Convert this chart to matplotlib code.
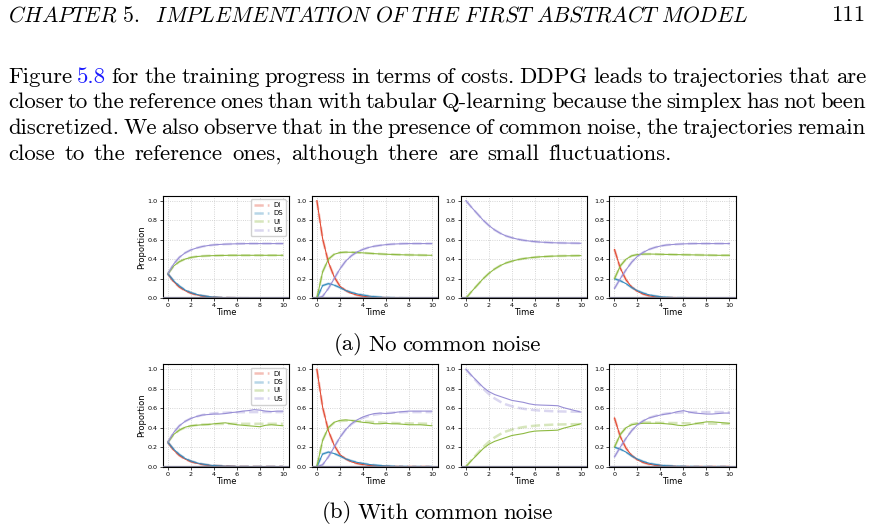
import matplotlib.pyplot as plt

plt.rcParams['mathtext.fontset'] = 'cm'

# time grid of the trajectories
time = [0, 0.5, 1, 1.5, 2, 2.5, 3, 3.5, 4, 4.5, 5, 5.5, 6, 6.5, 7, 7.5, 8, 8.5, 9, 9.5, 10]

labels = ["DI", "DS", "UI", "US"]
colors = ["#E24A33", "#348ABD", "#8EBA42", "#988ED5"]

# reference trajectories (one panel per initial condition)
p1_di = [0.25, 0.17, 0.115, 0.078, 0.052, 0.035, 0.023, 0.015, 0.01, 0.007, 0.005, 0.003, 0.002, 0.001, 0.001, 0, 0, 0, 0, 0, 0]
p1_ds = [0.25, 0.18, 0.125, 0.085, 0.058, 0.04, 0.027, 0.018, 0.012, 0.008, 0.005, 0.003, 0.002, 0.001, 0.001, 0, 0, 0, 0, 0, 0]
p1_ui = [0.25, 0.33, 0.375, 0.402, 0.418, 0.427, 0.432, 0.435, 0.437, 0.438, 0.439, 0.44, 0.44, 0.44, 0.44, 0.44, 0.44, 0.44, 0.44, 0.44, 0.44]
p1_us = [0.25, 0.35, 0.42, 0.465, 0.495, 0.515, 0.53, 0.54, 0.547, 0.551, 0.554, 0.556, 0.558, 0.559, 0.56, 0.56, 0.56, 0.56, 0.56, 0.56, 0.56]

p2_di = [1.0, 0.61, 0.37, 0.22, 0.125, 0.08, 0.05, 0.033, 0.022, 0.014, 0.009, 0.006, 0.004, 0.002, 0.001, 0.001, 0, 0, 0, 0, 0]
p2_ds = [0, 0.13, 0.15, 0.135, 0.11, 0.08, 0.06, 0.045, 0.033, 0.024, 0.017, 0.012, 0.008, 0.005, 0.003, 0.002, 0.001, 0, 0, 0, 0]
p2_ui = [0, 0.27, 0.4, 0.45, 0.468, 0.472, 0.471, 0.468, 0.465, 0.461, 0.457, 0.454, 0.451, 0.449, 0.447, 0.445, 0.444, 0.443, 0.442, 0.441, 0.44]
p2_us = [0, 0.02, 0.1, 0.2, 0.3, 0.38, 0.435, 0.475, 0.5, 0.52, 0.533, 0.542, 0.549, 0.554, 0.557, 0.559, 0.56, 0.56, 0.56, 0.56, 0.56]

p3_di = [0] * 21
p3_ds = [0] * 21
p3_ui = [0, 0.07, 0.135, 0.2, 0.255, 0.3, 0.335, 0.362, 0.38, 0.395, 0.406, 0.414, 0.42, 0.425, 0.428, 0.431, 0.433, 0.434, 0.435, 0.436, 0.437]
p3_us = [1.0, 0.93, 0.865, 0.8, 0.745, 0.7, 0.665, 0.638, 0.62, 0.605, 0.594, 0.586, 0.58, 0.575, 0.572, 0.569, 0.567, 0.566, 0.565, 0.564, 0.563]

p4_di = [0.5, 0.31, 0.19, 0.115, 0.07, 0.043, 0.026, 0.016, 0.01, 0.006, 0.004, 0.002, 0.001, 0.001, 0, 0, 0, 0, 0, 0, 0]
p4_ds = [0.2, 0.18, 0.15, 0.11, 0.078, 0.053, 0.036, 0.024, 0.016, 0.01, 0.007, 0.004, 0.003, 0.002, 0.001, 0.001, 0, 0, 0, 0, 0]
p4_ui = [0.2, 0.33, 0.4, 0.435, 0.448, 0.452, 0.453, 0.452, 0.45, 0.449, 0.448, 0.447, 0.446, 0.445, 0.444, 0.443, 0.442, 0.441, 0.44, 0.44, 0.44]
p4_us = [0.1, 0.2, 0.29, 0.37, 0.43, 0.47, 0.5, 0.52, 0.535, 0.545, 0.55, 0.554, 0.557, 0.559, 0.56, 0.56, 0.56, 0.56, 0.56, 0.56, 0.56]

# learned trajectories with common noise (UI and US deviate)
n1_ui = [0.25, 0.33, 0.375, 0.405, 0.42, 0.425, 0.43, 0.432, 0.44, 0.445, 0.45, 0.44, 0.43, 0.425, 0.42, 0.415, 0.41, 0.425, 0.43, 0.425, 0.42]
n1_us = [0.25, 0.35, 0.42, 0.465, 0.495, 0.515, 0.53, 0.535, 0.54, 0.54, 0.545, 0.555, 0.56, 0.57, 0.575, 0.585, 0.58, 0.57, 0.565, 0.57, 0.57]
n2_ui = [0, 0.27, 0.4, 0.455, 0.475, 0.48, 0.475, 0.465, 0.455, 0.45, 0.44, 0.44, 0.445, 0.44, 0.44, 0.435, 0.43, 0.43, 0.43, 0.425, 0.42]
n2_us = [0, 0.02, 0.1, 0.2, 0.3, 0.38, 0.44, 0.48, 0.51, 0.53, 0.545, 0.55, 0.545, 0.55, 0.56, 0.565, 0.57, 0.57, 0.57, 0.57, 0.57]
n3_ui = [0, 0.065, 0.125, 0.185, 0.23, 0.26, 0.28, 0.3, 0.32, 0.33, 0.34, 0.355, 0.365, 0.368, 0.37, 0.372, 0.375, 0.395, 0.41, 0.425, 0.44]
n3_us = [1.0, 0.935, 0.875, 0.815, 0.77, 0.74, 0.72, 0.7, 0.68, 0.67, 0.66, 0.645, 0.635, 0.632, 0.63, 0.628, 0.625, 0.605, 0.59, 0.575, 0.56]
n4_ui = [0.2, 0.33, 0.4, 0.43, 0.44, 0.445, 0.445, 0.445, 0.445, 0.44, 0.435, 0.425, 0.42, 0.43, 0.44, 0.45, 0.46, 0.46, 0.455, 0.45, 0.445]
n4_us = [0.1, 0.2, 0.29, 0.37, 0.43, 0.47, 0.5, 0.515, 0.53, 0.54, 0.55, 0.565, 0.575, 0.56, 0.55, 0.545, 0.54, 0.54, 0.545, 0.55, 0.55]

reference = [
    [p1_di, p1_ds, p1_ui, p1_us],
    [p2_di, p2_ds, p2_ui, p2_us],
    [p3_di, p3_ds, p3_ui, p3_us],
    [p4_di, p4_ds, p4_ui, p4_us],
]
noisy = [
    [p1_di, p1_ds, n1_ui, n1_us],
    [p2_di, p2_ds, n2_ui, n2_us],
    [p3_di, p3_ds, n3_ui, n3_us],
    [p4_di, p4_ds, n4_ui, n4_us],
]

header = r"$\mathit{CHAPTER\ 5.\ \ IMPLEMENTATION\ OF\ THE\ FIRST\ ABSTRACT\ MODEL}$"
page_number = "111"
body = [
    "Figure 5.8 for the training progress in terms of costs. DDPG leads to trajectories that are",
    "closer to the reference ones than with tabular Q-learning because the simplex has not been",
    "discretized. We also observe that in the presence of common noise, the trajectories remain",
    "close to the reference ones, although there are small fluctuations.",
]
captions = ["(a) No common noise", "(b) With common noise"]

W, H = 875, 530
fig = plt.figure(figsize=(W / 100, H / 100), dpi=100)
renderer = fig.canvas.get_renderer()


def text_width(s, size, family='cmr10'):
    t = fig.text(0, 0, s, fontsize=size, family=family)
    w = t.get_window_extent(renderer=renderer).width
    t.remove()
    return w


def place_words(words, size, x0, y, gap):
    x = x0
    for w in words:
        c = '#1a1aff' if w == "5.8" else 'black'
        fig.text(x / W, 1 - y / H, w, fontsize=size, va='center', family='cmr10', color=c)
        x += text_width(w, size) + gap
    return x - gap


left_px, right_px = 8, 866
space_px = 7.5
line_y = [77, 102, 128, 154]
line_right = [866, 866, 866, 672]

# body size: first line justified and last line natural, both with ~7.5 px word gaps
w1 = body[0].split()
w4 = body[3].split()
sum1 = sum(text_width(w, 10) for w in w1)
sum4 = sum(text_width(w, 10) for w in w4)
target = (right_px - left_px - space_px * (len(w1) - 1)) + (682 - space_px * (len(w4) - 1))
body_size = 10 * target / (sum1 + sum4)

head_size = 10 * 742 / text_width(header, 10)
fig.text(left_px / W, 1 - 15 / H, header, fontsize=head_size, va='center')
fig.text(right_px / W, 1 - 15 / H, page_number, fontsize=body_size, va='center', ha='right', family='cmr10')

for i, line in enumerate(body):
    words = line.split()
    total = sum(text_width(w, body_size) for w in words)
    gap = (line_right[i] - left_px - total) / (len(words) - 1)
    place_words(words, body_size, left_px, line_y[i], gap)

# subplot grid
col_left = [162.7, 311.7, 460.7, 609.3]
ax_w = 126.5
row_top = [195.7, 364.3]
row_bottom = [298.3, 466.7]
caption_y = [345, 513]

for r, data in enumerate([reference, noisy]):
    for c in range(4):
        ax = fig.add_axes([col_left[c] / W, 1 - row_bottom[r] / H, ax_w / W, (row_bottom[r] - row_top[r]) / H])
        for k in range(4):
            ax.plot(time, reference[c][k], color=colors[k], lw=1.8, ls='--', alpha=0.35, label=labels[k])
        for k in range(4):
            ax.plot(time, data[c][k], color=colors[k], lw=0.8)
        ax.axhline(0, color='#7a7a8c', lw=1.6, zorder=3)
        ax.set_ylim(0, 1.05)
        ax.set_xlim(-0.45, 10.55)
        ax.set_xticks([0, 2, 4, 6, 8, 10])
        ax.set_yticks([0.0, 0.2, 0.4, 0.6, 0.8, 1.0])
        ax.grid(True, linestyle=':', color='#c8c8c8', lw=0.6)
        ax.tick_params(labelsize=4.6, length=2, width=0.5, pad=1.5)
        for s in ax.spines.values():
            s.set_linewidth(0.8)
        ax.set_xlabel("Time", fontsize=6, labelpad=0)
        if c == 0:
            ax.set_ylabel("Proportion", fontsize=6, labelpad=1)
            ax.legend(loc='upper right', fontsize=5, handlelength=2.2, borderpad=0.4, labelspacing=0.35,
                      handletextpad=0.6, framealpha=0.9)
    cap = captions[r].split()
    cap_gap = 5.5
    cw = sum(text_width(w, body_size) for w in cap) + cap_gap * (len(cap) - 1)
    place_words(cap, body_size, 437 - cw / 2, caption_y[r], cap_gap)

plt.savefig("out.png", dpi=100)
